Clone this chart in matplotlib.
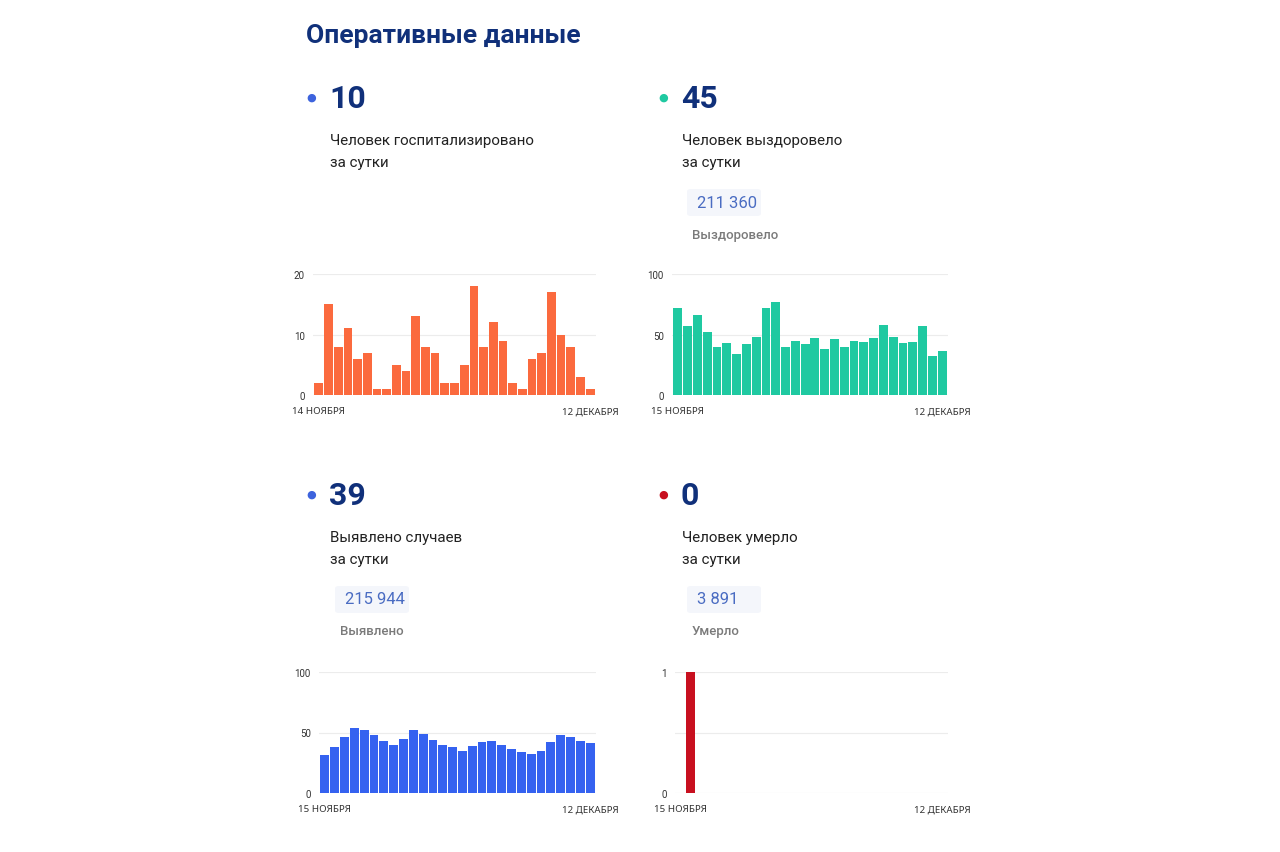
import matplotlib.pyplot as plt
from matplotlib.patches import FancyBboxPatch

plt.rcParams['font.family'] = ['Roboto', 'DejaVu Sans']

W, H = 1280, 853

# daily values
hospitalized = [2, 15, 8, 11, 6, 7, 1, 1, 5, 4, 13, 8, 7, 2, 2, 5, 18, 8, 12, 9,
                2, 1, 6, 7, 17, 10, 8, 3, 1]
recovered = [72, 57, 66, 52, 40, 43, 34, 42, 48, 72, 77, 40, 45, 42, 47, 38, 46,
             40, 45, 44, 47, 58, 48, 43, 44, 57, 32, 36]
cases = [31, 38, 46, 54, 52, 48, 43, 40, 45, 52, 49, 44, 40, 38, 35, 39, 42, 43,
         40, 36, 34, 32, 35, 42, 48, 46, 43, 41]
deaths = [0, 1] + [0] * 26

heads = ['10', '45', '39', '0']
captions = ['Человек госпитализировано\nза сутки', 'Человек выздоровело\nза сутки',
            'Выявлено случаев\nза сутки', 'Человек умерло\nза сутки']
totals = [None, '211 360', '215 944', '3 891']
total_labels = [None, 'Выздоровело', 'Выявлено', 'Умерло']
first_days = ['14 НОЯБРЯ', '15 НОЯБРЯ', '15 НОЯБРЯ', '15 НОЯБРЯ']
last_day = '12 ДЕКАБРЯ'

colors = ['#fb6a3e', '#1fc9a1', '#3562f0', '#c8101f']
dot_colors = ['#3d63dd', '#1fc9a1', '#3d63dd', '#c8101f']
navy = '#10307a'

fig = plt.figure(figsize=(W / 100, H / 100), dpi=100)
fig.patch.set_facecolor('white')


def fx(x):
    return x / W


def fy(y):
    return 1 - y / H


fig.text(fx(306), fy(36), 'Оперативные данные', fontsize=19, fontweight='bold',
         color=navy, va='center', ha='left')

# text blocks: (x of dot, y of head number)
blocks = [(311, 98), (663, 98), (311, 495), (663, 495)]
for i, (bx, by) in enumerate(blocks):
    fig.text(fx(bx), fy(by), '●', fontsize=8, color=dot_colors[i], ha='center', va='center',
             family=['DejaVu Sans'])
    fig.text(fx(bx + 18), fy(by + 1), heads[i], fontsize=23, fontweight='bold',
             color=navy, ha='left', va='center')
    fig.text(fx(bx + 19), fy(by + 54), captions[i], fontsize=10.9, color='#222222',
             ha='left', va='center', linespacing=1.7)
    if totals[i]:
        box = FancyBboxPatch((fx(bx + 24), fy(by + 119)), fx(74), 27 / H,
                             boxstyle='round,pad=0,rounding_size=0.003',
                             transform=fig.transFigure, facecolor='#f4f6fb',
                             edgecolor='none')
        fig.patches.append(box)
        fig.text(fx(bx + 34), fy(by + 105), totals[i], fontsize=12, color='#4a6cc2',
                 ha='left', va='center')
        fig.text(fx(bx + 29), fy(by + 137), total_labels[i], fontsize=9.5,
                 color='#7a7a7a', fontweight='medium', ha='left', va='center')

# chart areas in pixels: left, right, top, bottom
rects = [(313, 596, 275, 396), (672, 948, 275, 396),
         (319, 596, 673, 794), (675, 948, 673, 794)]
series = [hospitalized, recovered, cases, deaths]
yticks = [[0, 10, 20], [0, 50, 100], [0, 50, 100], [0, 0.5, 1]]
ylabels = [['0', '10', '20'], ['0', '50', '100'], ['0', '50', '100'], ['0', '', '1']]

for i, (l, r, t, b) in enumerate(rects):
    ax = fig.add_axes([fx(l), fy(b), (r - l) / W, (b - t) / H])
    vals = series[i]
    n = len(vals)
    ax.bar(range(n), vals, width=0.9, color=colors[i], zorder=3)
    ax.set_xlim(-0.6, n - 0.4)
    ax.set_ylim(0, yticks[i][-1])
    ax.set_yticks(yticks[i])
    ax.set_yticklabels(ylabels[i])
    ax.set_xticks([0, n - 1])
    ax.set_xticklabels([first_days[i], last_day], family=['Noto Sans', 'DejaVu Sans'])
    ax.tick_params(length=0, labelsize=7, colors='#333333')
    ax.tick_params(axis='x', pad=8)
    ax.tick_params(axis='y', pad=6)
    ax.grid(axis='y', color='#ececec', linewidth=0.8, zorder=0)
    for s in ax.spines.values():
        s.set_visible(False)

fig.savefig('out.png', dpi=100, facecolor='white')
